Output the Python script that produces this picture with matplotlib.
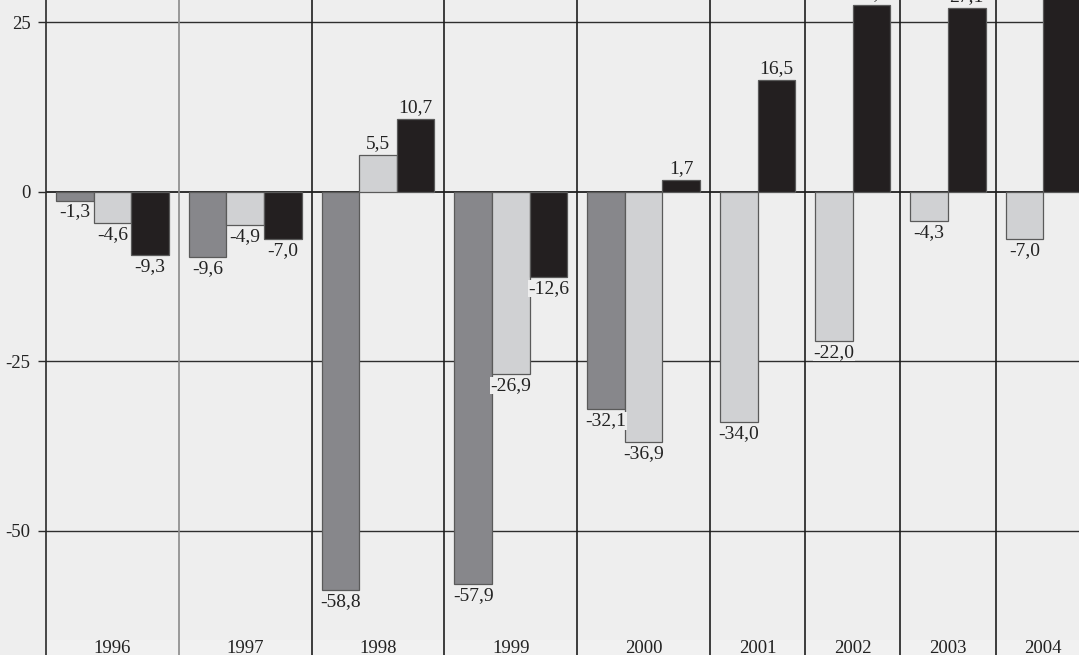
import matplotlib
matplotlib.use('Agg')
import matplotlib.pyplot as plt
from matplotlib.transforms import blended_transform_factory

# ---- data ----
years = ['1996', '1997', '1998', '1999', '2000', '2001', '2002', '2003', '2004']
series_a = [-1.3, -9.6, -58.8, -57.9, -32.1, None, None, None, None]
series_b = [-4.6, -4.9, 5.5, -26.9, -36.9, -34.0, -22.0, -4.3, -7.0]
series_c = [-9.3, -7.0, 10.7, -12.6, 1.7, 16.5, 27.6, 27.1, 31.5]
yticks = [25, 0, -25, -50]

# ---- style ----
colors = ['#87878b', '#d0d1d3', '#231f20']
edge = '#5a5a5a'
bg = '#eeeeee'
plt.rcParams['font.family'] = ['Liberation Serif', 'DejaVu Serif']

W, H, DPI = 1079, 655, 100
PX_X = 37.6      # pixels per bar width
PX_Y = 6.78      # pixels per value unit
ZERO_PX = 191.8  # pixel row of zero line (from top)
LEFT_PX = 46
PAD = 10 / PX_X
YMIN, YMAX = -72, 32

series = [series_a, series_b, series_c]

# layout of variable-width categories
bars = []      # (x, value, series index)
bounds = [0.0]
centers = []
x = 0.0
for i, _ in enumerate(years):
    present = [(k, s[i]) for k, s in enumerate(series) if s[i] is not None]
    start = x + PAD
    for j, (k, v) in enumerate(present):
        bars.append((start + j + 0.5, v, k))
    width = 2 * PAD + len(present)
    centers.append(x + width / 2)
    x += width
    bounds.append(x)
total = x

fig = plt.figure(figsize=(W / DPI, H / DPI), dpi=DPI, facecolor=bg)
bottom_px = ZERO_PX - YMIN * PX_Y
ax = fig.add_axes([LEFT_PX / W, (H - bottom_px) / H,
                   total * PX_X / W, (YMAX - YMIN) * PX_Y / H])
ax.set_facecolor(bg)
ax.set_xlim(0, total)
ax.set_ylim(YMIN, YMAX)

for s in ['top', 'right', 'bottom']:
    ax.spines[s].set_visible(False)
ax.spines['left'].set_color('#2a2a2a')
ax.spines['left'].set_linewidth(1.2)
ax.set_xticks([])
ax.set_yticks(yticks)
ax.set_yticklabels([str(t) for t in yticks], fontsize=13.5, color='#222222')
ax.tick_params(axis='y', length=6, width=1, color='#2a2a2a', pad=5)

# light band behind year labels
ax.axhspan(YMIN, (ZERO_PX - 640) / PX_Y, color='#f1f1f1', zorder=0.5, lw=0)

for t in yticks:
    ax.axhline(t, color='#2e2e2e', lw=1.4 if t == 0 else 1.0, zorder=1)
for j, b in enumerate(bounds[1:-1]):
    ax.axvline(b, color='#8a8a8a' if j == 0 else '#1e1e1e', lw=1.2, zorder=1)

for bx, v, k in bars:
    ax.bar(bx, v, width=1.0, color=colors[k], edgecolor=edge, lw=0.9, zorder=2)
    ax.annotate(f"{v:.1f}".replace('.', ','), (bx, v),
                xytext=(0, 2 if v >= 0 else -2), textcoords='offset points',
                ha='center', va='bottom' if v >= 0 else 'top', fontsize=14,
                color='#222222', zorder=3,
                bbox=dict(facecolor=bg, edgecolor='none', pad=0.3))

tr = blended_transform_factory(ax.transData, fig.transFigure)
for c, yr in zip(centers, years):
    ax.text(c, 1 - 653 / H, yr, transform=tr, ha='center', va='baseline',
            fontsize=13.5, color='#222222', zorder=4)

fig.savefig('out.png', dpi=DPI, facecolor=bg)
